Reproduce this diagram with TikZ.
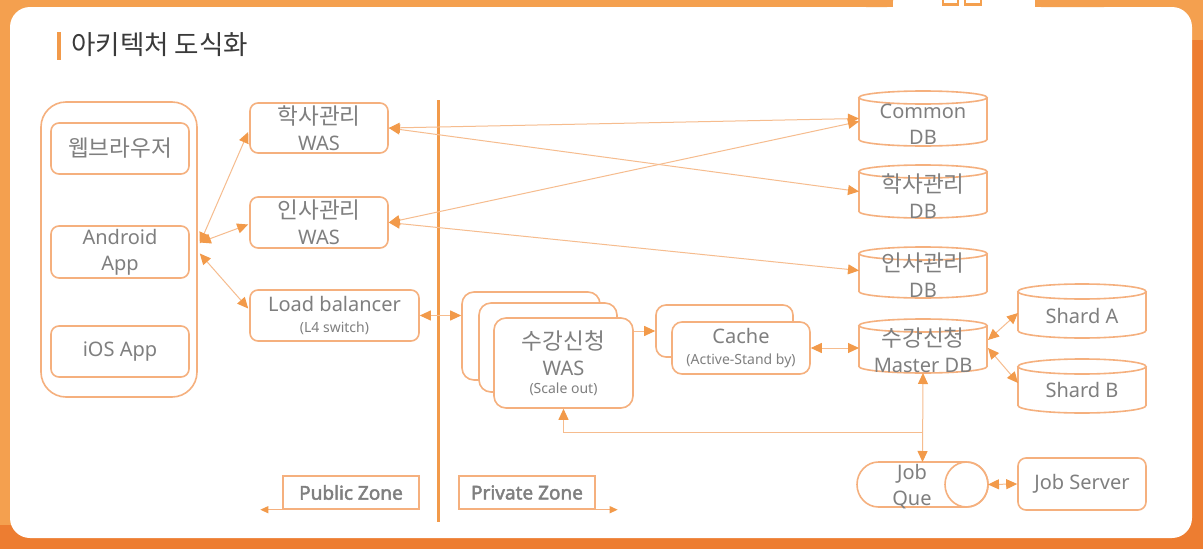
\documentclass[tikz,border=0pt]{standalone}
\usepackage{fontspec}
\setmainfont{Noto Sans}
\newfontfamily\kr[Scale=1.13]{Noto Sans CJK KR}
\newfontfamily\zonefont[FakeBold=2.2]{Noto Sans}
\usetikzlibrary{arrows.meta,calc}
\definecolor{frameA}{HTML}{F4A04F}
\definecolor{frameB}{HTML}{ED7D31}
\definecolor{boxc}{HTML}{F5B07E}
\definecolor{linec}{HTML}{F6BC8E}
\definecolor{tipc}{HTML}{F29A4A}
\definecolor{txt}{HTML}{7F7F7F}
\definecolor{ttl}{HTML}{3A3A3A}
\newcommand\smtext{\fontsize{14}{16}\selectfont}
\newcommand\dbdraw[2]{%
  \draw[boxline] ($(#1.north west)+(0,#2)$) -- ($(#1.south west)+(0,-#2)$)
     arc[start angle=180,end angle=360,x radius=64pt,y radius=#2 pt] -- ($(#1.north east)+(0,#2)$);
  \draw[boxline] ($(#1.north)+(0,#2)$) ellipse[x radius=64pt,y radius=#2 pt];}
\begin{document}
\begin{tikzpicture}[x=1pt,y=-1pt,
  big/.style={font=\fontsize{20}{26}\selectfont},
  box/.style={draw=boxc,line width=1.6pt,rounded corners=8pt,fill=white,text=txt,align=center,inner sep=0pt,big},
  boxline/.style={draw=boxc,line width=1.6pt},
  ghost/.style={inner sep=0pt,outer sep=0pt},
  lbl/.style={text=txt,align=center,inner sep=0pt,big},
  zone/.style={draw=boxc,line width=1.4pt,fill=white,text=txt,inner sep=0pt,font=\zonefont\fontsize{19}{22}\selectfont},
  conn/.style={draw=linec,line width=1pt,{Triangle[length=11pt,width=10pt,color=tipc]}-{Triangle[length=11pt,width=10pt,color=tipc]}},
  connR/.style={draw=linec,line width=1pt,-{Triangle[length=11pt,width=10pt,color=tipc]}},
  zarrow/.style={draw=boxc,line width=1.2pt,-{Triangle[length=8pt,width=7pt,color=tipc]}}
]
\useasboundingbox (0,0) rectangle (1203,549);
\clip (0,0) rectangle (1203,549);
% frame
\fill[frameA] (0,0) rectangle (1203,549);
\fill[frameB] (1160,40) rectangle (1203,549);
\fill[frameB] (0,525) rectangle (1203,549);
\fill[white,rounded corners=20pt] (10,7) rectangle (1192,538);
\fill[white] (893,0) rectangle (1035,20);
\fill[frameA,rounded corners=6pt] (860,-10) rectangle (893,7);
\fill[frameA,rounded corners=6pt] (1035,-10) rectangle (1110,7);
\draw[frameA,line width=2.5pt] (943,-5) rectangle (958,4.5);
\draw[frameA,line width=2.5pt] (965,-5) rectangle (981,4.5);
% title
\fill[tipc] (57,32) rectangle (61,60);
\node[anchor=west,text=ttl,inner sep=0pt,font=\fontsize{23.5}{28}\selectfont] (title) at (71,45) {\kr 아키텍처 도식화};
% divider
\draw[tipc,line width=3pt] (438,100) -- (438,522);
% clients
\node[box,rounded corners=25pt,minimum width=156pt,minimum height=295pt] (client) at (119,249.5) {};
\node[box,minimum width=138pt,minimum height=51pt] (web) at (120,148.5) {\kr 웹브라우저};
\node[box,minimum width=138pt,minimum height=52pt] (and) at (120,252) {Android\\App};
\node[box,minimum width=138pt,minimum height=51pt] (ios) at (120,351.5) {iOS App};
% public side
\node[box,minimum width=138pt,minimum height=50pt] (hw) at (319,128) {{\kr 학사관리}\\WAS};
\node[box,minimum width=138pt,minimum height=51pt] (iw) at (319,222.5) {{\kr 인사관리}\\WAS};
\node[box,minimum width=169pt,minimum height=51pt] (lb) at (334.5,315.5) {Load balancer\\[-5pt]{\smtext (L4 switch)}};
% scale-out WAS stack
\node[box,rounded corners=12pt,minimum width=138pt,minimum height=88pt] (swas3) at (531,336) {};
\node[box,rounded corners=12pt,minimum width=138pt,minimum height=89pt] (swas2) at (548,347.5) {};
\node[box,rounded corners=12pt,minimum width=139pt,minimum height=90pt] (swas) at (563.5,363) {{\kr 수강신청}\\WAS\\[-8pt]{\smtext (Scale out)}};
% cache
\node[box,rounded corners=10pt,minimum width=137pt,minimum height=52pt] (cache2) at (724.5,331) {};
\node[box,rounded corners=10pt,minimum width=138pt,minimum height=52pt] (cache) at (741,348) {Cache\\[-5pt]{\smtext (Active-Stand by)}};
% databases
\node[ghost,minimum width=128pt,minimum height=55pt] (cdb) at (923,118.5) {};
\node[ghost,minimum width=128pt,minimum height=53pt] (hdb) at (923,191.5) {};
\node[ghost,minimum width=128pt,minimum height=51pt] (idb) at (923,272.5) {};
\node[ghost,minimum width=128pt,minimum height=54pt] (mdb) at (923,346) {};
\node[ghost,minimum width=128pt,minimum height=54pt] (shA) at (1082,311) {};
\node[ghost,minimum width=128pt,minimum height=54pt] (shB) at (1082,386) {};
\dbdraw{cdb}{6.5}
\dbdraw{hdb}{6.5}
\dbdraw{idb}{6.5}
\dbdraw{mdb}{6.5}
\dbdraw{shA}{7.5}
\dbdraw{shB}{7.5}
\node[lbl] (cdbt) at (923,124) {Common\\DB};
\node[lbl] (hdbt) at (923,196) {{\kr 학사관리}\\DB};
\node[lbl] (idbt) at (923,275.5) {{\kr 인사관리}\\DB};
\node[lbl] (mdbt) at (923,350.5) {{\kr 수강신청}\\Master DB};
\node[lbl] (shAt) at (1082,316) {Shard A};
\node[lbl] (shBt) at (1082,390) {Shard B};
% job queue
\node[ghost,minimum width=131pt,minimum height=45pt] (jq) at (922.5,484.5) {};
\draw[boxline] (878.5,462) -- (966.5,462) arc[start angle=90,end angle=-90,x radius=21.5pt,y radius=22.5pt]
   -- (878.5,507) arc[start angle=270,end angle=90,x radius=21.5pt,y radius=22.5pt] -- cycle;
\draw[boxline] (966.5,484.5) ellipse[x radius=21.5pt,y radius=22.5pt];
\node[lbl] (jqt) at (912,486.5) {Job\\Que};
\node[box,minimum width=128pt,minimum height=52pt] (js) at (1082,484) {Job Server};
% zones
\node[zone,minimum width=136pt,minimum height=33pt] (pz) at (351,492.5) {Public Zone};
\node[zone,minimum width=136pt,minimum height=33pt] (prz) at (527,492.5) {Private Zone};
% connectors
\draw[conn] ($(client.east)+(2,-6)$) -- ($(hw.west)+(-1,4)$);
\draw[conn] ($(client.east)+(2,-7)$) -- ($(iw.west)+(-1,2)$);
\draw[conn] ($(client.east)+(2,4)$) -- ($(lb.west)+(-1,-7)$);
\draw[conn] (hw.east) -- (cdb.west);
\draw[conn] (hw.east) -- (hdb.west);
\draw[conn] (iw.east) -- ($(cdb.west)+(0,3)$);
\draw[conn] (iw.east) -- ($(idb.west)+(0,-2)$);
\draw[conn] (lb.east) -- (lb.east -| swas3.west);
\draw[connR] (swas.east |- cache2.west) -- (cache2.west);
\draw[conn] (cache.east) -- (cache.east -| mdb.west);
\draw[conn] ($(mdb.east)+(1,-6)$) -- ($(shA.west)+(0,2)$);
\draw[conn] ($(mdb.east)+(1,2)$) -- ($(shB.west)+(0,-3)$);
\draw[conn] (mdb.south) -- (jq.north);
\coordinate (br) at ($(mdb.south)!0.674!(jq.north)$);
\draw[connR] (br) -| (swas.south);
\draw[conn] (jq.east) -- (js.west);
\draw[zarrow] (pz.south west) -- +(-22,0);
\draw[zarrow] (prz.south east) -- +(22,0);
\end{tikzpicture}
\end{document}
